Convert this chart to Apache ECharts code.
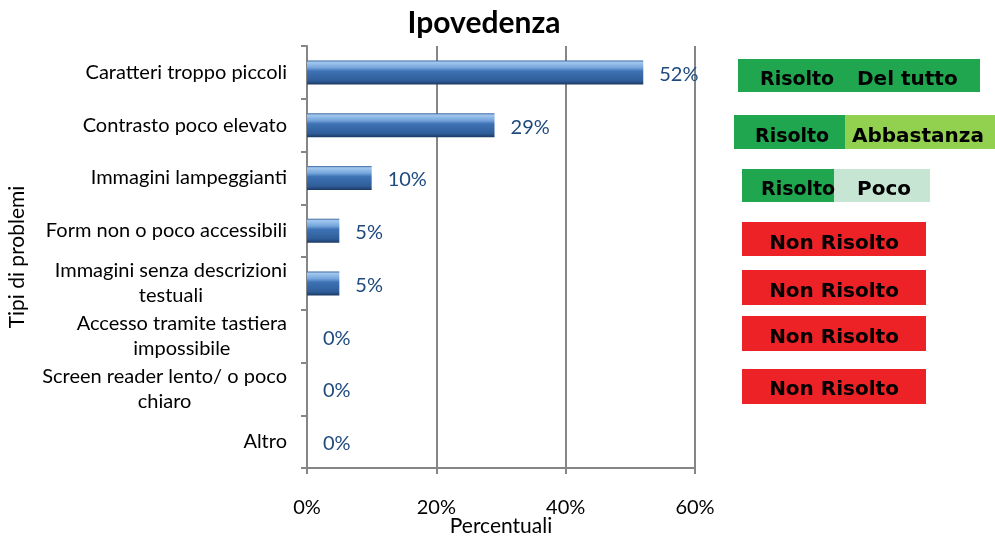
<!DOCTYPE html>
<html>
<head>
<meta charset="utf-8">
<script src="https://cdn.jsdelivr.net/npm/echarts@6/dist/echarts.min.js"></script>
<style>html,body{margin:0;padding:0;background:#fff;}#c{width:995px;height:539px;}</style>
</head>
<body>
<div id="c"></div>
<script>
const categories = [
  'Caratteri troppo piccoli',
  'Contrasto poco elevato',
  'Immagini lampeggianti',
  'Form non o poco accessibili',
  'Immagini senza descrizioni\ntestuali',
  'Accesso tramite tastiera\nimpossibile',
  'Screen reader lento/ o poco\nchiaro',
  'Altro'
];
const values = [52, 29, 10, 5, 5, 0, 0, 0];
const xTicks = [0, 20, 40, 60];
const statusBoxes = [
  { left: 'Risolto', right: 'Del tutto', kind: 'full' },
  { left: 'Risolto', right: 'Abbastanza', kind: 'enough' },
  { left: 'Risolto', right: 'Poco', kind: 'little' },
  { left: 'Non Risolto', kind: 'no' },
  { left: 'Non Risolto', kind: 'no' },
  { left: 'Non Risolto', kind: 'no' },
  { left: 'Non Risolto', kind: 'no' }
];

const FONT = 'Lato, "Liberation Sans", sans-serif';
const BOXFONT = '"DejaVu Sans", sans-serif';
const GREEN = '#21A650', LIGHTGREEN = '#92D050', PALEGREEN = '#C6E5D3', RED = '#EC2227';

// layout of annotation boxes (not data marks)
const boxGeom = [
  { x: 738, y: 59, w: 242, h: 33, split: null, t1: 760, t2: 857, ty: 80 },
  { x: 734, y: 115, w: 261, h: 34, split: 845, t1: 755, t2: 852, ty: 137 },
  { x: 742, y: 169, w: 188, h: 33, split: 834, t1: 761, t2: 857, ty: 190 },
  { x: 742, y: 222, w: 184, h: 34, ty: 244 },
  { x: 742, y: 270, w: 184, h: 35, ty: 292 },
  { x: 742, y: 316, w: 184, h: 35, ty: 338 },
  { x: 742, y: 369, w: 184, h: 35, ty: 390 }
];

const graphics = [];
const boxFont = 'bold 19px ' + BOXFONT;
statusBoxes.forEach((b, i) => {
  const g = boxGeom[i];
  if (b.kind === 'no') {
    graphics.push({ type: 'rect', shape: { x: g.x, y: g.y, width: g.w, height: g.h }, style: { fill: RED } });
    graphics.push({ type: 'text', style: { x: g.x + g.w / 2, y: g.ty, text: b.left, fill: '#000', font: 'bold 20px ' + BOXFONT, textAlign: 'center', textVerticalAlign: 'middle' } });
  } else {
    if (b.kind === 'full') {
      graphics.push({ type: 'rect', shape: { x: g.x, y: g.y, width: g.w, height: g.h }, style: { fill: GREEN } });
    } else {
      graphics.push({ type: 'rect', shape: { x: g.x, y: g.y, width: g.split - g.x, height: g.h }, style: { fill: GREEN } });
      graphics.push({ type: 'rect', shape: { x: g.split, y: g.y, width: g.x + g.w - g.split, height: g.h }, style: { fill: b.kind === 'enough' ? LIGHTGREEN : PALEGREEN } });
    }
    graphics.push({ type: 'text', z: 10, style: { x: g.t1, y: g.ty, text: b.left, fill: '#000', font: boxFont, textAlign: 'left', textVerticalAlign: 'middle' } });
    graphics.push({ type: 'text', z: 10, style: { x: g.t2, y: g.ty, text: b.right, fill: '#000', font: 'bold 20px ' + BOXFONT, textAlign: 'left', textVerticalAlign: 'middle' } });
  }
});

const chart = echarts.init(document.getElementById('c'), null, { renderer: 'canvas' });
chart.setOption({
  animation: false,
  backgroundColor: '#fff',
  title: {
    text: 'Ipovedenza', left: 479, top: 3, textAlign: 'center',
    textStyle: { fontFamily: FONT, fontWeight: 'bold', fontSize: 30, color: '#000' }
  },
  grid: { left: 307, right: 300, top: 46, bottom: 71, containLabel: false, outerBoundsMode: 'none' },
  xAxis: {
    type: 'value', min: xTicks[0], max: xTicks[xTicks.length - 1], interval: 20,
    name: 'Percentuali', nameLocation: 'middle', nameGap: 48, nameMoveOverlap: false,
    nameTextStyle: { fontFamily: FONT, fontSize: 21, color: '#000' },
    axisLine: { show: true, lineStyle: { color: '#868686', width: 2 } },
    axisTick: { show: true, length: 6, lineStyle: { color: '#868686', width: 2 } },
    axisLabel: { formatter: '{value}%', margin: 30, fontFamily: FONT, fontSize: 20, color: '#000' },
    splitLine: { show: true, lineStyle: { color: '#868686', width: 2 } }
  },
  yAxis: {
    type: 'category', data: categories, inverse: true,
    name: 'Tipi di problemi', nameLocation: 'middle', nameGap: 279, nameRotate: 90, nameMoveOverlap: false,
    nameTextStyle: { fontFamily: FONT, fontSize: 21, color: '#000' },
    axisLine: { show: true, lineStyle: { color: '#868686', width: 2 } },
    axisTick: { show: true, length: 6, lineStyle: { color: '#868686', width: 2 } },
    axisLabel: {
      margin: 20, fontFamily: FONT, fontSize: 20, color: '#000', lineHeight: 25,
      formatter: function (v) {
        if (v.indexOf('\n') < 0) return v;
        return v.split('\n').map(s => '{c|' + s + '}').join('\n');
      },
      rich: { c: { align: 'center', fontFamily: FONT, fontSize: 20, color: '#000', lineHeight: 25 } }
    },
    splitLine: { show: false }
  },
  series: [{
    type: 'bar', data: values, barWidth: 24,
    itemStyle: {
      borderWidth: 0,
      color: new echarts.graphic.LinearGradient(0, 0, 0, 1, [
        { offset: 0, color: '#2f5d99' },
        { offset: 0.08, color: '#a3c8ee' },
        { offset: 0.3, color: '#76a6dc' },
        { offset: 0.45, color: '#3e72b4' },
        { offset: 0.85, color: '#2f5d99' },
        { offset: 1, color: '#1c3a64' }
      ])
    },
    label: {
      show: true, position: 'right', distance: 16, formatter: '{c}%',
      fontFamily: FONT, fontSize: 20, color: '#1F4A7E', offset: [0, 2]
    }
  }],
  graphic: graphics
});
</script>
</body>
</html>
